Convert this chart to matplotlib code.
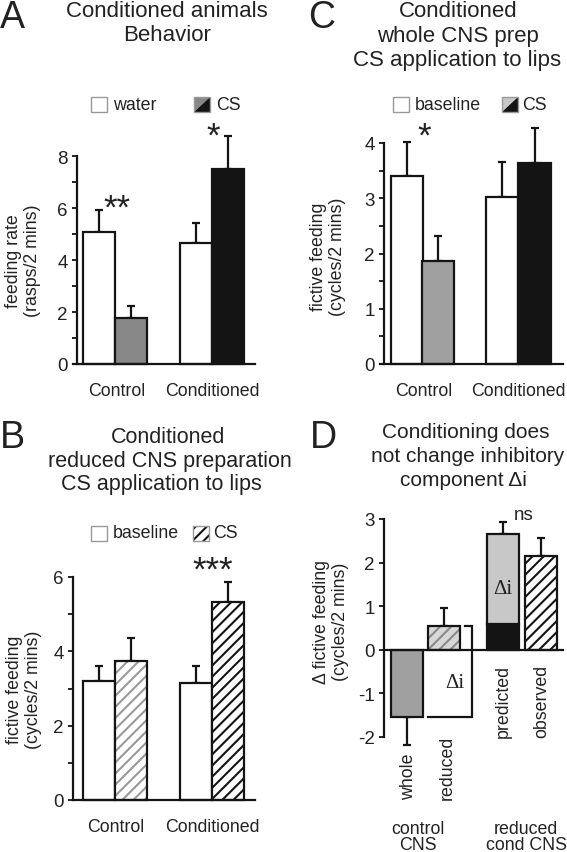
import matplotlib
matplotlib.use("Agg")
import matplotlib.pyplot as plt
import matplotlib.patches as patches

plt.rcParams['font.family'] = ['Liberation Sans', 'DejaVu Sans']
plt.rcParams['axes.unicode_minus'] = False
plt.rcParams['hatch.linewidth'] = 1.5

W, H = 567, 853

# ---- data ----
groups = ["Control", "Conditioned"]

# A: behaviour (rasps/2 mins)
a_water = [5.07, 4.65]
a_water_err = [0.85, 0.77]
a_cs = [1.77, 7.50]
a_cs_err = [0.46, 1.27]

# B: reduced CNS prep (cycles/2 mins)
b_base = [3.20, 3.15]
b_base_err = [0.40, 0.45]
b_cs = [3.74, 5.33]
b_cs_err = [0.62, 0.54]

# C: whole CNS prep (cycles/2 mins)
c_base = [3.40, 3.02]
c_base_err = [0.62, 0.63]
c_cs = [1.86, 3.64]
c_cs_err = [0.46, 0.63]

# D: change in fictive feeding
d_labels = ["whole", "reduced", "predicted", "observed"]
d_vals = [-1.53, 0.55, 2.66, 2.14]
d_err = [0.65, 0.41, 0.28, 0.43]
d_pred_black = 0.60

BLK = '#141414'
LW = 1.6
TICK = 13.5


def fx(x):
    return x / W


def fy(y):
    return 1 - y / H


def axes_px(left, bottom, right, top):
    return [left / W, 1 - bottom / H, (right - left) / W, (bottom - top) / H]


def bar(ax, x, h, err, fc='white', hatch=None, hc=None, bottom=0, down=False):
    if err is not None:
        yerr = [[err], [0]] if down else [[0], [err]]
        eb = ax.errorbar([x], [bottom + h], yerr=yerr, fmt='none', ecolor=BLK,
                         elinewidth=LW, capsize=2.6, capthick=LW, zorder=1)
        for art in eb.lines[1] + eb.lines[2]:
            art.set_clip_on(False)
    if hatch:
        ax.bar(x, h, width=1, bottom=bottom, color=fc, hatch=hatch, edgecolor=hc,
               linewidth=0, zorder=2, clip_on=False)
        ax.bar(x, h, width=1, bottom=bottom, fill=False, edgecolor=BLK,
               linewidth=LW, zorder=3, clip_on=False)
    else:
        ax.bar(x, h, width=1, bottom=bottom, color=fc, edgecolor=BLK,
               linewidth=LW, zorder=2, clip_on=False)


def setup(ax, xlim, ylim, ticks, labels, xzero=False):
    ax.set_xlim(*xlim)
    ax.set_ylim(*ylim)
    ax.patch.set_alpha(0)
    for s in ['top', 'right']:
        ax.spines[s].set_visible(False)
    for s in ['left', 'bottom']:
        ax.spines[s].set_linewidth(LW)
        ax.spines[s].set_color(BLK)
    ax.spines['left'].set_position(('data', 0))
    if xzero:
        ax.spines['bottom'].set_position(('data', 0))
    ax.set_yticks(ticks)
    ax.set_yticklabels(labels)
    ax.tick_params(axis='y', direction='out', length=3.8, width=1.3, pad=3,
                   labelsize=TICK, color=BLK, labelcolor='#222')


def cat_labels(ax, centers):
    ax.set_xticks(centers)
    ax.set_xticklabels(groups)
    ax.tick_params(axis='x', length=0, pad=13, labelsize=12.8, labelcolor='#222')


def title(lines, letter, letter_x, letter_base):
    fig.text(fx(letter_x), fy(letter_base), letter, fontsize=27, va='baseline',
             ha='left', color='#222')
    for txt, cx, base, size in lines:
        fig.text(fx(cx), fy(base), txt, fontsize=size, ha='center',
                 va='baseline', color='#222')


def legend_box(x, y, kind, c1=None):
    x0, y1 = fx(x), fy(y)
    w, h = 16 / W, 15 / H
    y0 = y1 - h
    if kind == 'white':
        fig.add_artist(patches.Rectangle((x0, y0), w, h, transform=fig.transFigure,
                                         facecolor='white', edgecolor='#999', lw=1.0))
    elif kind == 'split':
        fig.add_artist(patches.Polygon([(x0, y1), (x0, y0), (x0 + w, y1)],
                                       transform=fig.transFigure, facecolor=c1,
                                       edgecolor='none'))
        fig.add_artist(patches.Polygon([(x0 + w, y1), (x0 + w, y0), (x0, y0)],
                                       transform=fig.transFigure, facecolor=BLK,
                                       edgecolor='none'))
        fig.add_artist(patches.Rectangle((x0, y0), w, h, transform=fig.transFigure,
                                         fill=False, edgecolor='#999', lw=1.0))
    else:
        fig.add_artist(patches.Rectangle((x0, y0), w, h, transform=fig.transFigure,
                                         facecolor='white', hatch='///', edgecolor=BLK,
                                         lw=0))
        fig.add_artist(patches.Rectangle((x0, y0), w, h, transform=fig.transFigure,
                                         fill=False, edgecolor='#999', lw=1.0))


def ftext(x, y, s, size=12.8, **kw):
    fig.text(fx(x), fy(y), s, fontsize=size, color='#222', **kw)


fig = plt.figure(figsize=(W / 100, H / 100), dpi=100)

# ---------------- A ----------------
axA = fig.add_axes(axes_px(73, 365, 255, 157))
setup(axA, (-0.125, 5.56), (0, 8), range(0, 9),
      ['0', '', '2', '', '4', '', '6', '', '8'])
posA = [(0.70, 1.70), (3.72, 4.72)]
csA = ['#888888', BLK]
for i in range(2):
    bar(axA, posA[i][0], a_water[i], a_water_err[i])
    bar(axA, posA[i][1], a_cs[i], a_cs_err[i], fc=csA[i])
cat_labels(axA, [1.25, 4.22])
ftext(23, 261, 'feeding rate\n(rasps/2 mins)', rotation=90, ha='center',
      va='center', linespacing=1.1)
title([('Conditioned animals', 167, 17, 16), ('Behavior', 167, 41, 16)], 'A', 0, 28)
legend_box(91, 98, 'white')
ftext(113, 106, 'water', va='center')
legend_box(194, 98, 'split', '#888888')
ftext(216, 106, 'CS', va='center')
ftext(117, 219, '**', size=25, ha='center', va='baseline')
ftext(213, 147, '*', size=25, ha='center', va='baseline')

# ---------------- C ----------------
axC = fig.add_axes(axes_px(380, 365, 563, 144))
setup(axC, (-0.125, 5.59), (0, 4), [k * 0.5 for k in range(9)],
      ['0', '', '1', '', '2', '', '3', '', '4'])
posC = [(0.72, 1.70), (3.70, 4.70)]
csC = ['#a0a0a0', BLK]
for i in range(2):
    bar(axC, posC[i][0], c_base[i], c_base_err[i])
    bar(axC, posC[i][1], c_cs[i], c_cs_err[i], fc=csC[i])
cat_labels(axC, [1.25, 4.2])
ftext(328, 257, 'fictive feeding\n(cycles/2 mins)', rotation=90, ha='center',
      va='center', linespacing=1.1)
title([('Conditioned', 458, 17, 16), ('whole CNS prep', 458, 42, 16),
       ('CS application to lips', 457, 66, 16)], 'C', 308, 28)
legend_box(393, 98, 'white')
ftext(415, 106, 'baseline', va='center')
legend_box(502, 98, 'split', '#c8c8c8')
ftext(522, 106, 'CS', va='center')
ftext(424, 147, '*', size=25, ha='center', va='baseline')

# ---------------- B ----------------
axB = fig.add_axes(axes_px(73, 801, 255, 578))
setup(axB, (0, 5.69), (0, 6), range(0, 7),
      ['0', '', '2', '', '4', '', '6'])
posB = [(0.81, 1.81), (3.84, 4.84)]
hatchB = ['#9a9a9a', BLK]
for i in range(2):
    bar(axB, posB[i][0], b_base[i], b_base_err[i])
    bar(axB, posB[i][1], b_cs[i], b_cs_err[i], hatch='///', hc=hatchB[i])
cat_labels(axB, [1.35, 4.35])
ftext(24, 690, 'fictive feeding\n(cycles/2 mins)', rotation=90, ha='center',
      va='center', linespacing=1.1)
title([('Conditioned', 168, 443, 15.5), ('reduced CNS preparation', 170, 467, 15.5),
       ('CS application to lips', 161, 490, 15.5)], 'B', 0, 448)
legend_box(91, 527, 'white')
ftext(113, 534, 'baseline', va='center')
legend_box(193, 527, 'hatch')
ftext(213, 534, 'CS', va='center')
ftext(213, 581, '***', size=25, ha='center', va='baseline')

# ---------------- D ----------------
axD = fig.add_axes(axes_px(384, 738, 563, 520))
setup(axD, (0, 5.59), (-2, 3), range(-2, 4), [str(k) for k in range(-2, 4)],
      xzero=True)
axD.set_xticks([])
posD = [0.72, 1.875, 3.72, 4.89]
# whole (negative, error downwards)
bar(axD, posD[0], d_vals[0], d_err[0], fc='#a0a0a0', down=True)
# reduced (hatched grey)
bar(axD, posD[1], d_vals[1], d_err[1], fc='#d8d8d8', hatch='///', hc='#8a8a8a')
# predicted: black base + light grey delta-i
bar(axD, posD[2], d_pred_black, None, fc=BLK)
bar(axD, posD[2], d_vals[2] - d_pred_black, d_err[2], fc='#c8c8c8',
    bottom=d_pred_black)
# observed (hatched black)
bar(axD, posD[3], d_vals[3], d_err[3], hatch='///', hc=BLK)
# delta-i bracket between reduced and whole
bx0, bx1 = posD[1] - 0.5, posD[1] + 0.87
axD.plot([bx1 - 0.21, bx1, bx1, bx0], [d_vals[1], d_vals[1], d_vals[0], d_vals[0]],
         color=BLK, lw=LW, solid_joinstyle='miter', zorder=2, clip_on=False)
axD.text(2.22, -0.76, '\u0394i', fontsize=15, ha='center', va='center',
         family=['Liberation Serif', 'DejaVu Serif'], color='#222')
axD.text(posD[2], 1.40, '\u0394i', fontsize=15, ha='center', va='center',
         family=['Liberation Serif', 'DejaVu Serif'], color='#222')
for lab, x, bot in zip(d_labels, [409, 447, 503, 542], [800, 800, 738, 738]):
    ftext(x, bot, lab, size=12.8, rotation=90, ha='center', va='bottom')
ftext(418, 834, 'control', ha='center', va='baseline')
ftext(418, 850, 'CNS', ha='center', va='baseline')
ftext(526, 834, 'reduced', ha='center', va='baseline')
ftext(526, 850, 'cond CNS', ha='center', va='baseline')
ftext(331, 622, '\u0394 fictive feeding\n(cycles/2 mins)', rotation=90,
      ha='center', va='center', linespacing=1.1)
title([('Conditioning does', 466, 438, 15), ('not change inhibitory', 468, 462, 15),
       ('component \u0394i', 463, 486, 15)], 'D', 310, 448)
ftext(524, 520, 'ns', size=13.5, ha='center', va='baseline')

fig.savefig('out.png', dpi=100)
